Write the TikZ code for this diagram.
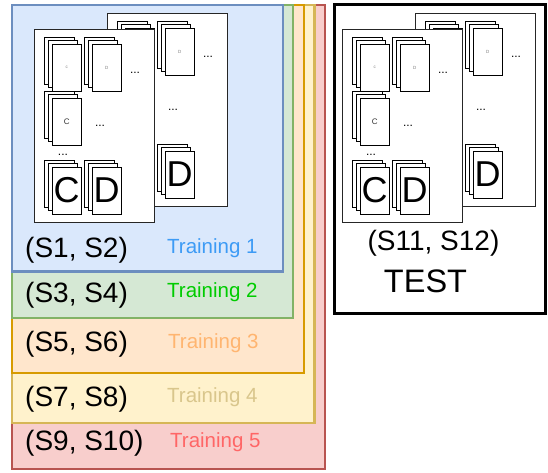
\documentclass[tikz,border=0pt]{standalone}
\usepackage{fontspec}
\setmainfont{Liberation Sans}
\definecolor{bfill}{HTML}{DAE8FC}\definecolor{bline}{HTML}{6C8EBF}
\definecolor{gfill}{HTML}{D5E8D4}\definecolor{gline}{HTML}{82B366}
\definecolor{ofill}{HTML}{FFE6CC}\definecolor{oline}{HTML}{D79B00}
\definecolor{yfill}{HTML}{FFF2CC}\definecolor{yline}{HTML}{D6B656}
\definecolor{rfill}{HTML}{F8CECC}\definecolor{rline}{HTML}{B85450}
\definecolor{t1}{HTML}{3D9BF5}\definecolor{t2}{HTML}{00CC00}
\definecolor{t3}{HTML}{FFB570}\definecolor{t4}{HTML}{D9C68C}
\definecolor{t5}{HTML}{FF6666}
\tikzset{
  card/.style={draw=black, fill=white, line width=0.8pt},
  sheet/.style={draw=black!85, fill=white, line width=0.8pt},
  setbox/.style={line width=2.2pt},
  slabel/.style={anchor=west, inner sep=0pt, font=\fontsize{28}{30}\selectfont},
  tlabel/.style={anchor=west, inner sep=0pt, font=\fontsize{20.5}{22}\selectfont},
  dots/.style={anchor=base, inner sep=0pt, font=\fontsize{12}{12}\selectfont},
  tiny/.style={inner sep=0pt, text=black!50, font=\fontsize{4.5}{5}\selectfont},
  small/.style={inner sep=0pt, text=black!80, font=\fontsize{8}{9}\selectfont},
  big/.style={inner sep=0pt, font=\fontsize{36}{38}\selectfont},
}
% card stack: front card top-left (#1,#2), label #3, label style #4
\newcommand\cardstack[4]{%
  \draw[card] (#1-7.4,#2-7) rectangle ++(29.3,47);
  \draw[card] (#1-3.7,#2-3.5) rectangle ++(29.3,47);
  \draw[card] (#1,#2) rectangle ++(29.3,47);
  \node[#4] at (#1+14.65,#2+23.5) {#3};
}
\newcommand\frontsheet{%
  \draw[sheet] (0,0) rectangle (120,193);
  \cardstack{18}{15}{c}{tiny}
  \cardstack{58}{15}{D}{tiny}
  \cardstack{18}{69}{C}{small}
  \cardstack{18}{138}{C}{big}
  \cardstack{58}{138}{D}{big}
  \node[dots] at (101,44.5) {...};
  \node[dots] at (66,97.5) {...};
  \node[dots] at (29,126.5) {...};
}
\newcommand\backsheet{%
  \draw[sheet] (0,0) rectangle (120,193);
  \cardstack{18}{15}{}{tiny}
  \cardstack{58}{15}{D}{tiny}
  \cardstack{58}{138}{D}{big}
  \node[dots] at (101,44.5) {...};
  \node[dots] at (66,97.5) {...};
}
\begin{document}
\begin{tikzpicture}[x=1pt,y=-1pt]
\useasboundingbox (0,0) rectangle (548,473);
% training sets
\draw[setbox, draw=rline, fill=rfill] (12,5) rectangle (325,469);
\draw[setbox, draw=yline, fill=yfill] (12,5) rectangle (314.5,423);
\draw[setbox, draw=oline, fill=ofill] (12,5) rectangle (304,373);
\draw[setbox, draw=gline, fill=gfill] (12,5) rectangle (293,318);
\draw[setbox, draw=bline, fill=bfill] (12,5) rectangle (283,271.5);
% test set
\draw[line width=3pt, draw=black, fill=white] (334.5,5) rectangle (545,313);
% sheets
\begin{scope}[shift={(107,13)}]\backsheet\end{scope}
\begin{scope}[shift={(34,29)}]\frontsheet\end{scope}
\begin{scope}[shift={(415,13)}]\backsheet\end{scope}
\begin{scope}[shift={(342,29)}]\frontsheet\end{scope}
% labels
\node[slabel] (s1) at (25,250.3) {(S1, S2)};
\node[slabel] (s2) at (25,295) {(S3, S4)};
\node[slabel] (s3) at (25,344.7) {(S5, S6)};
\node[slabel] (s4) at (25,399) {(S7, S8)};
\node[slabel] (s5) at (25,443.3) {(S9, S10)};
\node[tlabel, text=t1] (tr1) at (167,247.7) {Training 1};
\node[tlabel, text=t2] (tr2) at (167,292.3) {Training 2};
\node[tlabel, text=t3] (tr3) at (168,343.3) {Training 3};
\node[tlabel, text=t4] (tr4) at (167,397.3) {Training 4};
\node[tlabel, text=t5] (tr5) at (170,442.3) {Training 5};
\node[inner sep=0pt, font=\fontsize{28}{30}\selectfont] (s6) at (433.5,243.3) {(S11, S12)};
\node[inner sep=0pt, font=\fontsize{32.5}{34}\selectfont] (test) at (425.5,281.7) {TEST};
\end{tikzpicture}
\end{document}
